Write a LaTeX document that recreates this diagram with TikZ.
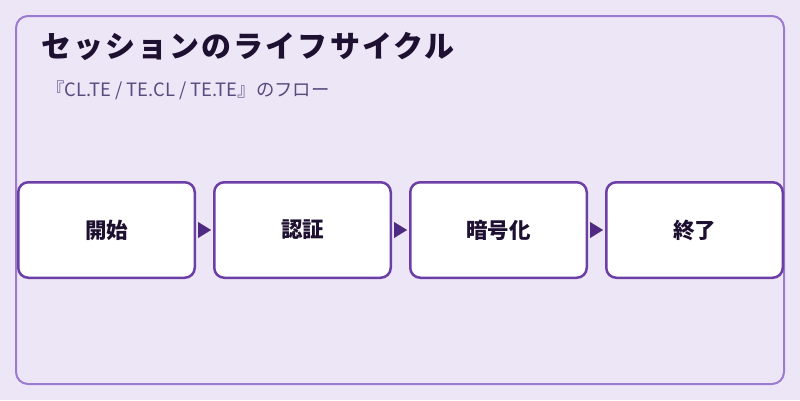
\documentclass[tikz,border=0pt]{standalone}
\usepackage{fontspec}
\setmainfont{Noto Sans CJK JP}
\newfontfamily\titlefont[LetterSpace=7]{Noto Sans CJK JP}
\usetikzlibrary{positioning,arrows.meta}

\definecolor{bgpurple}{HTML}{EDE6F6}
\definecolor{framepurple}{HTML}{9B7BCF}
\definecolor{boxpurple}{HTML}{6B3FA6}
\definecolor{arrowpurple}{HTML}{4E2A80}
\definecolor{titleink}{HTML}{1E1030}
\definecolor{subink}{HTML}{5A4A7E}

\begin{document}
\begin{tikzpicture}[x=1pt,y=-1pt,
  stage/.style={draw=boxpurple, line width=2.5pt, fill=white, rounded corners=10pt,
    minimum width=176.5pt, minimum height=95.5pt, inner sep=0pt,
    font=\fontsize{21.5}{24}\selectfont\bfseries, text=titleink},
  flow/.style={-{Triangle[length=13pt,width=16pt]}, arrowpurple, line width=0.1pt,
    shorten <=2pt, shorten >=2pt}]

%% background
\fill[bgpurple] (0,0) rectangle (800,400);
\draw[framepurple, line width=2pt, rounded corners=12pt] (16,16) rectangle (784,384);

\node[anchor=west, inner sep=0pt, text=titleink, font=\titlefont\fontsize{30}{34}\selectfont\bfseries]
  (title) at (41,46.5) {セッションのライフサイクル};
\node[anchor=west, inner sep=0pt, text=subink, font=\fontsize{18.4}{22}\selectfont]
  (subtitle) at (46,90) {『CL.TE / TE.CL / TE.TE』のフロー};

%% stages
\node[stage] (start) at (106.5,230) {\raisebox{-1.5pt}{開始}};
\node[stage, right=17pt of start] (auth) {\raisebox{-1.5pt}{認証}};
\node[stage, right=17pt of auth] (crypt) {\raisebox{-1.5pt}{暗号化}};
\node[stage, right=17pt of crypt] (finish) {\raisebox{-1.5pt}{終了}};

%%% arrows
\draw[flow] (start) -- (auth);
\draw[flow] (auth) -- (crypt);
\draw[flow] (crypt) -- (finish);

\end{tikzpicture}
\end{document}
